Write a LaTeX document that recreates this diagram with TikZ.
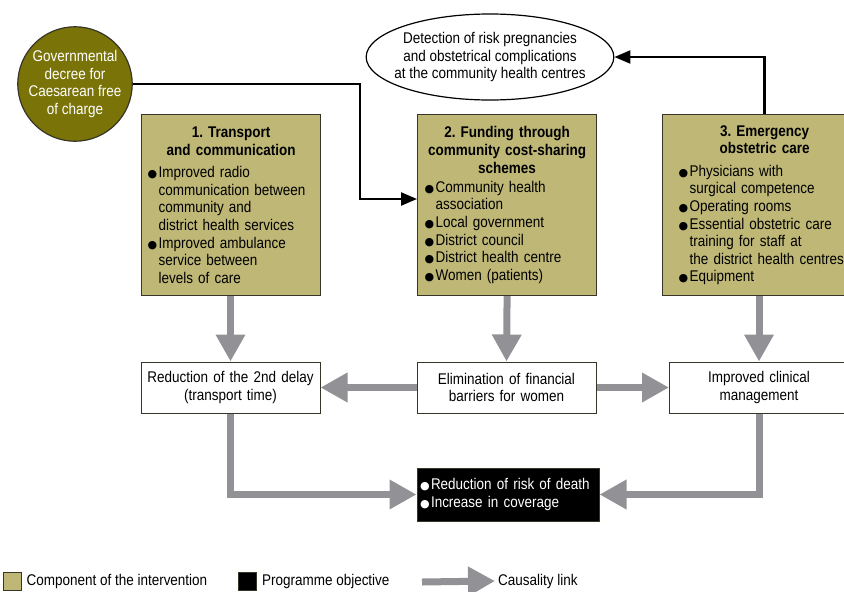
\documentclass[tikz,border=0pt]{standalone}
\usepackage{fontspec}
\setmainfont{Liberation Sans}[FakeStretch=0.87]
\newfontfamily\dotfont{DejaVu Sans}
\usepackage{tikz}
\usetikzlibrary{arrows.meta}
\tikzset{>=latex}
\usetikzlibrary{calc}
\usetikzlibrary{positioning}
\usetikzlibrary{shapes.geometric}
\frenchspacing

\definecolor{khaki}{RGB}{190,183,118}
\definecolor{olive}{RGB}{122,116,8}
\definecolor{causalgray}{RGB}{146,146,150}
\definecolor{edgegray}{RGB}{55,52,40}

\newcommand{\bul}{\makebox[11pt][l]{\dotfont\fontsize{11}{11}\selectfont ●}}
\newcommand{\ind}{\hspace*{11pt}}
\newcommand{\hd}[1]{\makebox[\hsize][c]{\bfseries #1}}

\tikzset{
  comp/.style={draw=edgegray, line width=1.2pt, fill=khaki, anchor=north west,
    minimum height=181pt, align=left, inner ysep=0pt},
  effect/.style={draw=edgegray, line width=1pt, fill=white, minimum height=51pt,
    text width=171pt, inner xsep=4pt, align=center},
  causal/.style={draw=causalgray, line width=7pt, -{Triangle[length=27pt,width=28pt]}},
  decreelink/.style={draw=black, line width=2.3pt, -{Triangle[length=16pt,width=13pt]}},
  swatch/.style={draw=edgegray, line width=0.8pt, minimum size=18pt, inner sep=0pt},
}

\begin{document}
\begin{tikzpicture}[x=1pt, y=-1pt, font=\fontsize{15.5}{17.6}\selectfont]
    \useasboundingbox (0,0) rectangle (844,592);

    \node[circle, draw=edgegray, line width=1.2pt, fill=olive, text=white,
      minimum size=112pt, inner sep=0pt, align=center] (decree) at (75,84)
      {Governmental\\decree for\\Caesarean free\\of charge};

    \node[ellipse, draw=black, line width=1.2pt, minimum width=244pt,
      minimum height=86pt, inner xsep=-8pt, inner ysep=0pt, align=center] (detect) at (490,57)
      {Detection of risk pregnancies\\and obstetrical complications\\at the community health centres};

    \node[comp, text width=167pt, inner xsep=6pt] (transport) at (141,114)
      {\hd{1. Transport}\\\hd{and communication}\\[5pt]
       \bul Improved radio\\\ind communication between\\\ind community and\\\ind district health services\\
       \bul Improved ambulance\\\ind service between\\\ind levels of care};

    \node[comp, text width=165pt, inner xsep=7pt] (funding) at (417,114)
      {\hd{2. Funding through}\\\hd{community cost-sharing}\\\hd{schemes}\\[1.5pt]
       \bul Community health\\\ind association\\
       \bul Local government\\
       \bul District council\\
       \bul District health centre\\
       \bul Women (patients)};

    \node[comp, text width=172pt, inner xsep=16pt] (emergency) at (662,114)
      {\hd{3. Emergency}\\\hd{obstetric care}\\[5pt]
       \bul Physicians with\\\ind surgical competence\\
       \bul Operating rooms\\
       \bul Essential obstetric care\\\ind training for staff at\\\ind the district health centres\\
       \bul Equipment};

    \node[effect] (delay) at (230.5,387.5) {Reduction of the 2nd delay\\(transport time)};
    \node[effect] (barrier) at (506.5,387.5) {Elimination of financial\\barriers for women};
    \node[effect] (clinical) at (759,387.5) {Improved clinical\\management};

    \node[draw=edgegray, line width=1pt, fill=black, text=white, minimum height=53pt,
      text width=176pt, inner xsep=3pt, align=left] (goal) at (508,494.5)
      {\bul Reduction of risk of death\\\bul Increase in coverage};

    \coordinate (bend) at (360,199);
    \draw[decreelink] (decree.east) -| (bend) -- (bend -| funding.west);
    \draw[decreelink] (emergency.north) |- (detect.east);

    \draw[causal] (transport.south -| delay.north) -- (delay.north);
    \draw[causal] (funding.south) -- (barrier.north);
    \draw[causal] (emergency.south -| clinical.north) -- (clinical.north);
    \draw[causal] (barrier.west) -- (delay.east);
    \draw[causal] (barrier.east) -- (clinical.west);
    \draw[causal] (delay.south) |- (goal.west);
    \draw[causal] (clinical.south) |- (goal.east);

    \node[swatch, fill=khaki] (keycomp) at (12,581) {};
    \node[right=3pt of keycomp, inner sep=2pt] (keycomptext) {Component of the intervention};
    \node[swatch, fill=black] (keygoal) at (247.5,581) {};
    \node[right=3pt of keygoal, inner sep=2pt] (keygoaltext) {Programme objective};
    \coordinate (keyfrom) at (422,582);
    \node[anchor=west, inner sep=3pt] (keylink) at (495,581) {Causality link};
    \draw[causal] (keyfrom) -- (keylink.west);
  \end{tikzpicture}
\end{document}
